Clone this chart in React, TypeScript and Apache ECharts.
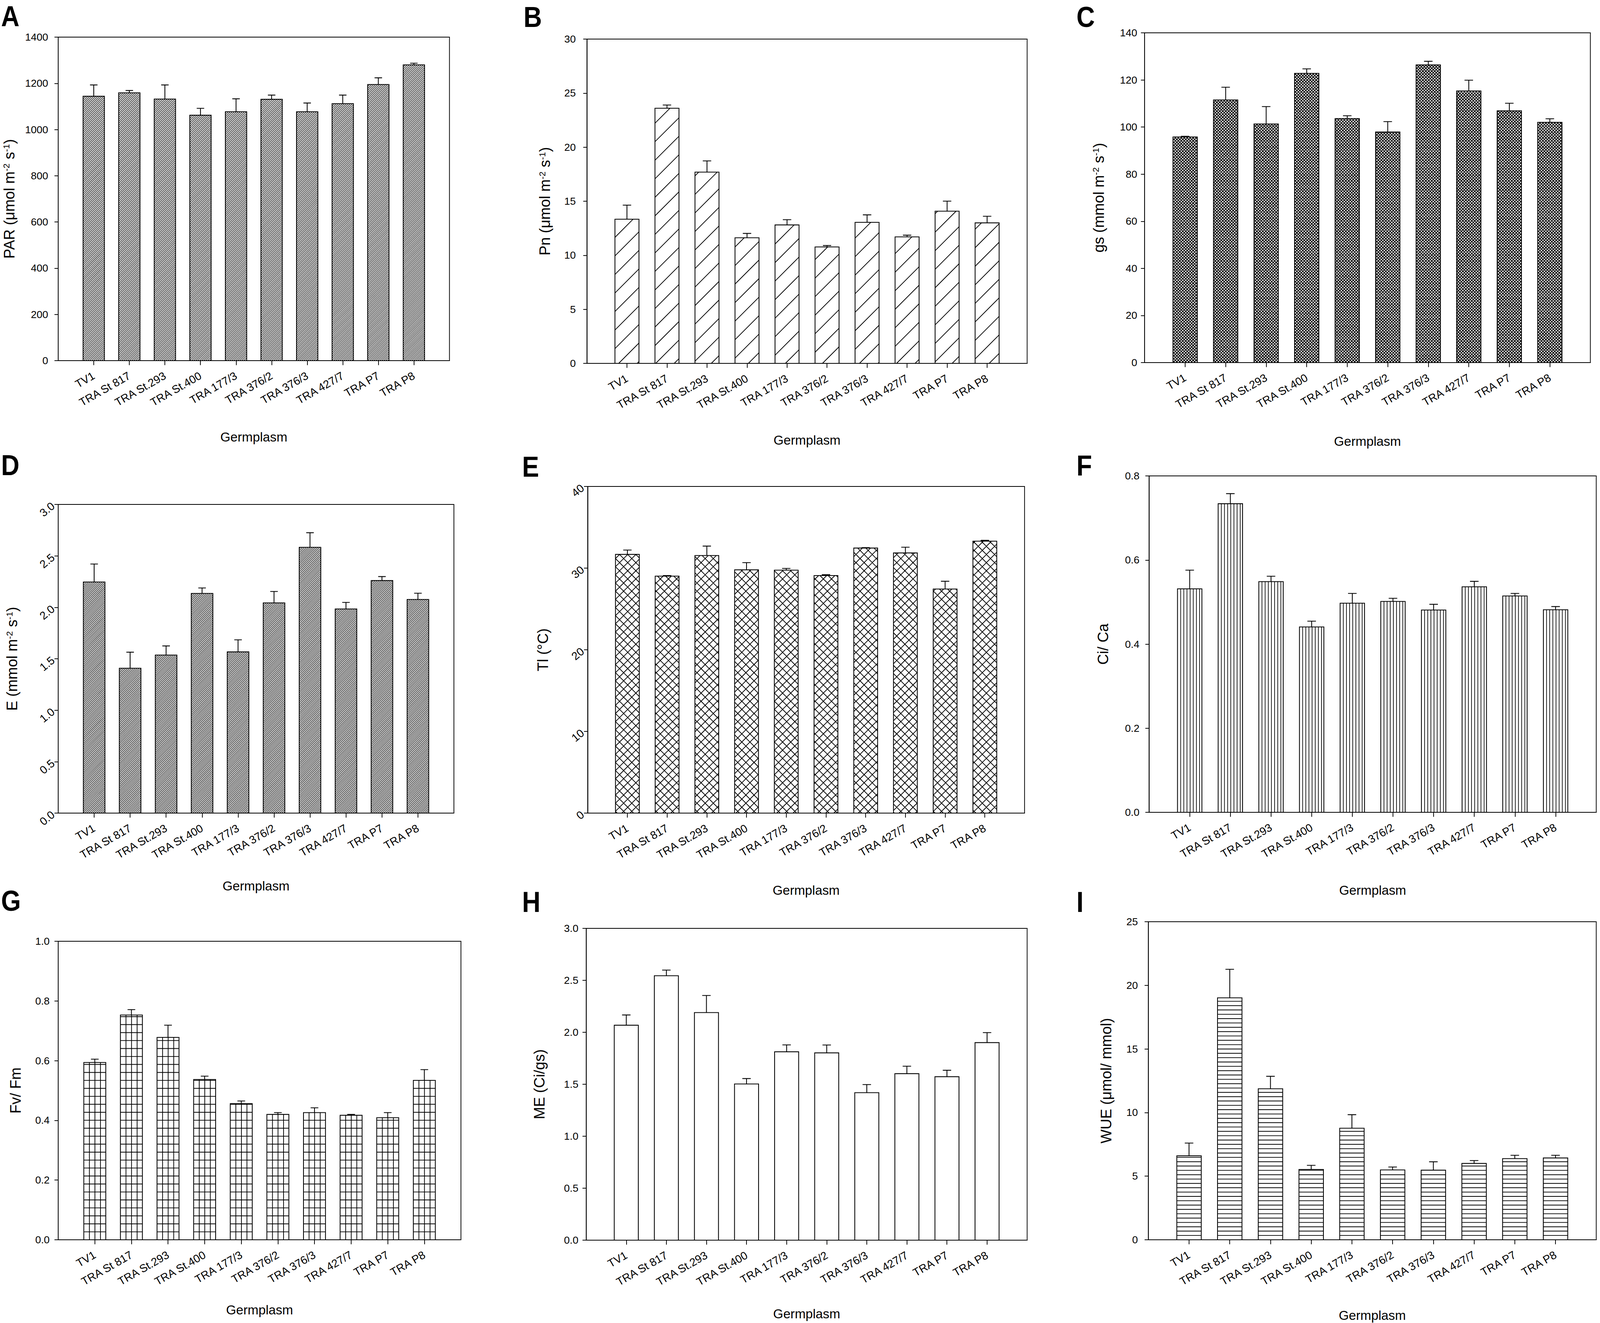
import React, { useEffect, useRef } from 'react';
import * as echarts from 'echarts';

// ---------- data ----------
const categories = ['TV1', 'TRA St 817', 'TRA St.293', 'TRA St.400', 'TRA 177/3', 'TRA 376/2', 'TRA 376/3', 'TRA 427/7', 'TRA P7', 'TRA P8'];

const parMean = [1144, 1159, 1132, 1062, 1077, 1131, 1077, 1112, 1195, 1280];
const parErr = [49, 10, 61, 30, 56, 18, 38, 37, 29, 7];
const pnMean = [13.34, 23.6, 17.69, 11.62, 12.81, 10.77, 13.05, 11.7, 14.08, 13.0];
const pnErr = [1.3, 0.3, 1.04, 0.4, 0.48, 0.13, 0.69, 0.16, 0.93, 0.61];
const gsMean = [95.8, 111.5, 101.3, 122.8, 103.6, 97.9, 126.4, 115.3, 106.9, 102.0];
const gsErr = [0.3, 5.4, 7.4, 1.9, 1.2, 4.4, 1.5, 4.6, 3.2, 1.5];
const eMean = [2.246, 1.408, 1.536, 2.135, 1.567, 2.043, 2.583, 1.984, 2.26, 2.076];
const eErr = [0.175, 0.156, 0.089, 0.053, 0.117, 0.111, 0.142, 0.064, 0.039, 0.061];
const tlMean = [31.68, 29.02, 31.54, 29.79, 29.75, 29.09, 32.46, 31.86, 27.44, 33.3];
const tlErr = [0.53, 0.07, 1.16, 0.88, 0.21, 0.1, 0.05, 0.7, 0.95, 0.1];
const ciMean = [0.5315, 0.7339, 0.5486, 0.4409, 0.4974, 0.5015, 0.4811, 0.5363, 0.5145, 0.4818];
const ciErr = [0.0443, 0.0239, 0.0129, 0.0136, 0.0232, 0.0075, 0.0136, 0.0129, 0.0061, 0.0075];
const fvMean = [0.594, 0.753, 0.678, 0.537, 0.456, 0.42, 0.426, 0.417, 0.409, 0.534];
const fvErr = [0.011, 0.018, 0.041, 0.011, 0.009, 0.006, 0.016, 0.003, 0.017, 0.036];
const meMean = [2.068, 2.544, 2.19, 1.503, 1.8125, 1.802, 1.419, 1.602, 1.573, 1.901];
const meErr = [0.099, 0.055, 0.164, 0.052, 0.066, 0.076, 0.078, 0.072, 0.062, 0.096];
const wueMean = [6.6, 19.02, 11.87, 5.53, 8.77, 5.49, 5.47, 6.0, 6.38, 6.43];
const wueErr = [1.0, 2.24, 0.98, 0.32, 1.06, 0.23, 0.66, 0.23, 0.26, 0.21];

const yMaxes = [1400, 30, 140, 3, 40, 0.8, 1, 3, 25];
const yIntervals = [200, 5, 20, 0.5, 10, 0.2, 0.2, 0.5, 5];
const yDecimals = [0, 0, 0, 1, 0, 1, 1, 1, 0];
const panelLetters = ['A', 'B', 'C', 'D', 'E', 'F', 'G', 'H', 'I'];
const yTitles = [
  '{a|PAR (μmol m}{s|-2}{a| s}{s|-1}{a|)}',
  '{a|Pn (μmol m}{s|-2}{a| s}{s|-1}{a|)}',
  '{a|gs (mmol m}{s|-2}{a| s}{s|-1}{a|)}',
  '{a|E (mmol m}{s|-2}{a| s}{s|-1}{a|)}',
  'Tl (°C)',
  'Ci/ Ca',
  'Fv/ Fm',
  'ME (Ci/gs)',
  'WUE (μmol/ mmol)',
];
const xTitle = 'Germplasm';
const seriesMeans = [parMean, pnMean, gsMean, eMean, tlMean, ciMean, fvMean, meMean, wueMean];
const seriesErrs = [parErr, pnErr, gsErr, eErr, tlErr, ciErr, fvErr, meErr, wueErr];

// ---------- layout / style (reference pixel units, 4318 x 3386) ----------
const REF_W = 4318;
const REF_H = 3386;
const FONT = '"Liberation Sans", Arial, Helvetica, sans-serif';
// [left, top, right, bottom] of each plot box
const rects = [
  [157, 95, 1213, 923],
  [1584, 100, 2772, 930],
  [3089, 84, 4292, 928],
  [157, 1291, 1225, 2081],
  [1586, 1245, 2765, 2081],
  [3101, 1218, 4311, 2079],
  [157, 2409, 1244, 3173],
  [1582, 2376, 2772, 3174],
  [3099, 2359, 4313, 3173],
];
const letterPos = [
  [3, 42], [1413, 44], [2905, 44],
  [3, 1191], [1409, 1195], [2905, 1192],
  [3, 2306], [1409, 2309], [2905, 2309],
];
const yNameGaps = [112, 93, 104, 104, 101, 104, 95, 106, 93];
const xNameGaps = [179, 180, 185, 170, 181, 183, 163, 172, 177];
const yLabelMargins = [27, 30, 20, 14, 14, 26, 23, 21, 28];
const yLabelRotate = [0, 0, 0, 40, 40, 0, 0, 0, 0];
const yLabelSize = [28, 28, 28, 30, 30, 28, 28, 28, 28];
const patterns: any[] = [
  { kind: 'up', s: 5.4, w: 1.5 },
  { kind: 'up', s: 50, w: 2 },
  { kind: 'cross', s: 8, w: 2.1 },
  { kind: 'up', s: 5.2, w: 1.5 },
  { kind: 'cross', s: 22, w: 2 },
  { kind: 'vert', s: 8.5, w: 1.8 },
  { kind: 'grid', sx: 15, sy: 21.5, w: 2 },
  { kind: 'none' },
  { kind: 'horiz', s: 11.7, w: 2 },
];

const f = (n: number) => n.toFixed(1);

function diagUp(x0: number, y0: number, x1: number, y1: number, s: number) {
  let d = '';
  const start = Math.ceil((x0 + y0) / s) * s;
  for (let c = start; c <= x1 + y1; c += s) {
    const lo = Math.max(x0, c - y1);
    const hi = Math.min(x1, c - y0);
    if (hi - lo > 0.5) d += `M${f(lo)} ${f(c - lo)}L${f(hi)} ${f(c - hi)}`;
  }
  return d;
}
function diagDown(x0: number, y0: number, x1: number, y1: number, s: number) {
  let d = '';
  const start = Math.ceil((x0 - y1) / s) * s;
  for (let c = start; c <= x1 - y0; c += s) {
    const lo = Math.max(x0, y0 + c);
    const hi = Math.min(x1, y1 + c);
    if (hi - lo > 0.5) d += `M${f(lo)} ${f(lo - c)}L${f(hi)} ${f(hi - c)}`;
  }
  return d;
}
function vert(x0: number, y0: number, x1: number, y1: number, s: number) {
  let d = '';
  for (let x = x0 + s; x < x1 - 1.5; x += s) d += `M${f(x)} ${f(y0)}L${f(x)} ${f(y1)}`;
  return d;
}
function horiz(x0: number, y0: number, x1: number, y1: number, s: number) {
  let d = '';
  for (let y = y1 - s; y > y0 + 1.5; y -= s) d += `M${f(x0)} ${f(y)}L${f(x1)} ${f(y)}`;
  return d;
}
function hatch(x0: number, y0: number, x1: number, y1: number, p: any, k: number) {
  if (y1 - y0 < 1) return '';
  switch (p.kind) {
    case 'up': return diagUp(x0, y0, x1, y1, p.s * k);
    case 'cross': return diagUp(x0, y0, x1, y1, p.s * k) + diagDown(x0, y0, x1, y1, p.s * k);
    case 'vert': return vert(x0, y0, x1, y1, p.s * k);
    case 'horiz': return horiz(x0, y0, x1, y1, p.s * k);
    case 'grid': return vert(x0, y0, x1, y1, p.sx * k) + horiz(x0, y0, x1, y1, p.sy * k);
    default: return '';
  }
}

const makeRenderItem = (pat: any, k: number) => (params: any, api: any) => {
  const idx = api.value(0);
  const v = api.value(1);
  const e = api.value(2);
  const base = api.coord([idx, 0]);
  const top = api.coord([idx, v]);
  const band = api.size([1, 0])[0];
  const bw = band * 0.6;
  const cx = base[0];
  const x0 = cx - bw / 2;
  const x1 = cx + bw / 2;
  const y0 = top[1];
  const y1 = base[1];
  const et = api.coord([idx, v + e])[1];
  const cap = band * 0.105;
  const lw = 2.2 * k;
  const children: any[] = [
    { type: 'rect', shape: { x: x0, y: y0, width: bw, height: y1 - y0 }, style: { fill: '#fff', stroke: 'none' } },
  ];
  const hp = hatch(x0, y0, x1, y1, pat, k);
  if (hp) children.push({ type: 'path', shape: { pathData: hp }, style: { fill: 'none', stroke: '#000', lineWidth: pat.w * k } });
  children.push({ type: 'rect', shape: { x: x0, y: y0, width: bw, height: y1 - y0 }, style: { fill: 'none', stroke: '#000', lineWidth: lw } });
  if (e > 0) {
    children.push({
      type: 'path',
      shape: { pathData: `M${f(cx)} ${f(y0)}L${f(cx)} ${f(et)}M${f(cx - cap)} ${f(et)}L${f(cx + cap)} ${f(et)}` },
      style: { fill: 'none', stroke: '#000', lineWidth: lw },
    });
  }
  return { type: 'group', children };
};

function buildOption(sx: number, sy: number) {
  const k = Math.min(sx, sy);
  const axisCats = [' ', ...categories, '  '];
  const grid: any[] = [];
  const xAxis: any[] = [];
  const yAxis: any[] = [];
  const series: any[] = [];
  const graphic: any[] = [];
  for (let p = 0; p < 9; p++) {
    const [l, t, r, b] = rects[p];
    grid.push({
      left: l * sx, top: t * sy, width: (r - l) * sx, height: (b - t) * sy,
      show: true, borderColor: '#000', borderWidth: 2 * k, backgroundColor: 'transparent', containLabel: false,
    });
    xAxis.push({
      gridIndex: p,
      type: 'category',
      data: axisCats,
      boundaryGap: false,
      axisLine: { show: true, lineStyle: { color: '#000', width: 2 * k } },
      axisTick: { show: true, length: 12 * k, lineStyle: { color: '#000', width: 2 * k }, interval: (i: number, v: string) => String(v).trim() !== '' },
      axisLabel: { interval: 0, rotate: 30, margin: 38 * k, fontSize: 30 * k, color: '#000', fontFamily: FONT },
      splitLine: { show: false },
      name: xTitle,
      nameLocation: 'middle',
      nameGap: xNameGaps[p] * sy,
      nameTextStyle: { fontSize: 35 * k, color: '#000', fontFamily: FONT },
    });
    const dec = yDecimals[p];
    yAxis.push({
      gridIndex: p,
      type: 'value',
      min: 0,
      max: yMaxes[p],
      interval: yIntervals[p],
      axisLine: { show: true, lineStyle: { color: '#000', width: 2 * k } },
      axisTick: { show: true, length: 10 * k, lineStyle: { color: '#000', width: 2 * k } },
      axisLabel: {
        margin: yLabelMargins[p] * k,
        fontSize: yLabelSize[p] * k,
        color: '#000',
        fontFamily: FONT,
        rotate: yLabelRotate[p],
        formatter: (v: number) => v.toFixed(dec),
      },
      splitLine: { show: false },
      name: yTitles[p],
      nameLocation: 'middle',
      nameRotate: 90,
      nameGap: yNameGaps[p] * sx,
      nameTextStyle: {
        fontSize: 40 * k,
        color: '#000',
        fontFamily: FONT,
        rich: {
          a: { fontSize: 40 * k, color: '#000', fontFamily: FONT },
          s: { fontSize: 24 * k, color: '#000', fontFamily: FONT, verticalAlign: 'top' },
        },
      },
    });
    const means = seriesMeans[p];
    const errs = seriesErrs[p];
    series.push({
      type: 'custom',
      xAxisIndex: p,
      yAxisIndex: p,
      renderItem: makeRenderItem(patterns[p], k),
      encode: { x: 0, y: 1 },
      data: means.map((m, i) => [i + 1, m, errs[i]]),
      animation: false,
      silent: true,
    });
    graphic.push({
      type: 'text',
      x: letterPos[p][0] * sx,
      y: letterPos[p][1] * sy,
      scaleX: 0.88,
      style: {
        text: panelLetters[p],
        font: `bold ${Math.round(78 * k)}px ${FONT}`,
        fill: '#000',
        align: 'left',
        verticalAlign: 'middle',
      },
    });
  }
  return {
    animation: false,
    backgroundColor: '#fff',
    textStyle: { fontFamily: FONT },
    grid,
    xAxis,
    yAxis,
    series,
    graphic,
  };
}

export default function App() {
  const ref = useRef<HTMLDivElement>(null);
  const W = typeof window !== 'undefined' ? window.innerWidth : REF_W;
  const H = typeof window !== 'undefined' ? window.innerHeight : REF_H;
  useEffect(() => {
    if (!ref.current) return;
    const w = ref.current.clientWidth || REF_W;
    const h = ref.current.clientHeight || REF_H;
    const chart = echarts.init(ref.current, null, { renderer: 'svg' });
    chart.setOption(buildOption(w / REF_W, h / REF_H) as any);
    return () => chart.dispose();
  }, []);
  return (
    <div
      ref={ref}
      style={{ position: 'absolute', left: 0, top: 0, width: W, height: H, background: '#fff', overflow: 'hidden' }}
    />
  );
}
